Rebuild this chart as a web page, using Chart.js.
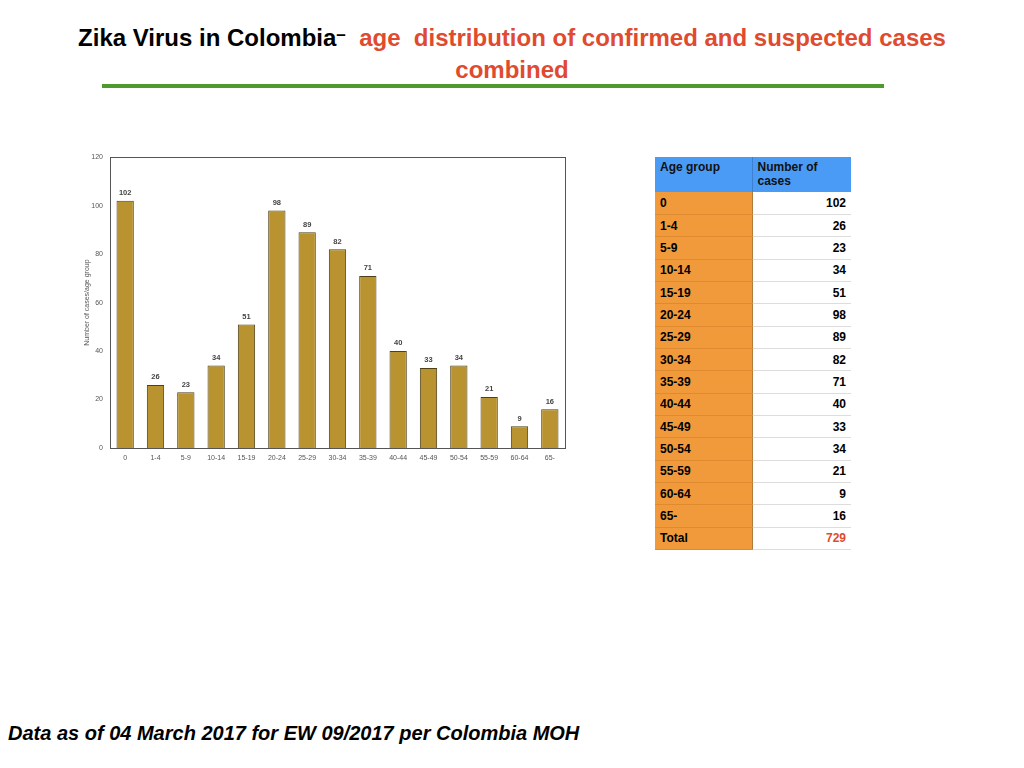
<!DOCTYPE html>
<html>
<head>
<meta charset="utf-8">
<script src="https://cdn.jsdelivr.net/npm/chart.js@4.4.0/dist/chart.umd.min.js"></script>
<style>
  html, body { margin: 0; padding: 0; background: #fff; }
  body { width: 1024px; height: 768px; position: relative; overflow: hidden; font-family: "Liberation Sans", Arial, sans-serif; }
  .title { position: absolute; left: 0; top: 19px; width: 1024px; text-align: center; font-weight: bold; font-size: 24px; line-height: 32px; }
  .title .blk { color: #000; }
  .title .red { color: #E04A2F; }
  .title .dash { font-size: 17px; vertical-align: 6px; color: #000; }
  .rule { position: absolute; left: 102px; top: 84px; width: 782px; height: 4px; background: #4E9A2E; }
  #wrap { position: absolute; left: 57px; top: 146px; width: 513px; height: 324px; }
  table { position: absolute; left: 655px; top: 157px; border-collapse: collapse; font-size: 12px; font-weight: bold; }
  td, th { padding: 0 5px; box-sizing: border-box; }
  th { background: #4A9BF5; color: #111; text-align: left; vertical-align: top; height: 35px; padding-top: 3px; font-weight: bold; line-height: 14px; }
  td { height: 22.35px; border-bottom: 1px solid #ddd; }
  td.c1 { background: #F09A3C; width: 97px; border-right: 1px solid #b07a3c; border-bottom: 1px solid #e08a30; }
  td.c2 { background: #fff; width: 99px; text-align: right; }
  th.h1 { width: 97px; border-right: 1px solid #3d7fd0; }
  th.h2 { width: 99px; }
  .total { color: #E04A2F; }
  .foot { position: absolute; left: 8px; top: 721px; font-size: 20px; font-weight: bold; font-style: italic; color: #000; line-height: 24px; }
</style>
</head>
<body>
<div class="title"><span class="blk">Zika Virus in Colombia</span><span class="dash">–</span>&nbsp; <span class="red">age &nbsp;distribution of confirmed and suspected cases</span><br><span class="red">combined</span></div>
<div class="rule"></div>
<div id="wrap"><canvas id="c"></canvas></div>
<table id="tbl"></table>
<div class="foot">Data as of 04 March 2017 for EW 09/2017 per Colombia MOH</div>
<script>
const ageGroups = ["0","1-4","5-9","10-14","15-19","20-24","25-29","30-34","35-39","40-44","45-49","50-54","55-59","60-64","65-"];
const cases = [102,26,23,34,51,98,89,82,71,40,33,34,21,9,16];
const totalCases = 729;
const yTicks = [0,20,40,60,80,100,120];

// table
const tbl = document.getElementById('tbl');
let html = '<tr><th class="h1">Age group</th><th class="h2">Number of<br>cases</th></tr>';
ageGroups.forEach((g, i) => {
  html += '<tr><td class="c1">' + g + '</td><td class="c2">' + cases[i] + '</td></tr>';
});
html += '<tr><td class="c1">Total</td><td class="c2 total">' + totalCases + '</td></tr>';
tbl.innerHTML = html;

const labelPlugin = {
  id: 'barLabels',
  afterDatasetsDraw(chart) {
    const ctx = chart.ctx;
    const meta = chart.getDatasetMeta(0);
    ctx.save();
    ctx.font = 'bold 7.5px "Liberation Sans", Arial, sans-serif';
    ctx.fillStyle = '#444';
    ctx.textAlign = 'center';
    ctx.textBaseline = 'bottom';
    meta.data.forEach((bar, i) => {
      ctx.fillText(String(cases[i]), bar.x, bar.y - 4);
    });
    ctx.restore();
  },
  afterDraw(chart) {
    const a = chart.chartArea;
    const ctx = chart.ctx;
    ctx.save();
    ctx.strokeStyle = '#555';
    ctx.lineWidth = 1;
    ctx.strokeRect(Math.round(a.left) + 0.5, Math.round(a.top) + 0.5, Math.round(a.right - a.left), Math.round(a.bottom - a.top));
    ctx.restore();
  }
};

new Chart(document.getElementById('c'), {
  type: 'bar',
  data: {
    labels: ageGroups,
    datasets: [{
      data: cases,
      backgroundColor: '#B8932F',
      borderColor: '#4d3f16',
      borderWidth: 1,
      categoryPercentage: 1.0,
      barPercentage: 0.57
    }]
  },
  options: {
    responsive: true,
    maintainAspectRatio: false,
    animation: false,
    layout: { padding: { top: 2, right: 5, left: 26, bottom: 0 } },
    plugins: { legend: { display: false }, tooltip: { enabled: false } },
    scales: {
      x: {
        grid: { display: false, drawTicks: false },
        border: { display: false },
        ticks: { color: '#555', font: { size: 7, family: '"Liberation Sans", Arial, sans-serif' }, maxRotation: 0, autoSkip: false, padding: 6 },
        afterFit(s) { s.height = 22; }
      },
      y: {
        min: 0, max: 120,
        afterBuildTicks(s) { s.ticks = yTicks.map(v => ({ value: v })); },
        grid: { display: false, drawTicks: false },
        border: { display: false },
        ticks: { color: '#555', font: { size: 7, family: '"Liberation Sans", Arial, sans-serif' }, padding: 7 },
        title: { display: true, text: 'Number of cases/age group', color: '#555', font: { size: 7, family: '"Liberation Sans", Arial, sans-serif' }, padding: 0 },
        afterFit(s) { s.width = 27; }
      }
    }
  },
  plugins: [labelPlugin]
});
</script>
</body>
</html>
